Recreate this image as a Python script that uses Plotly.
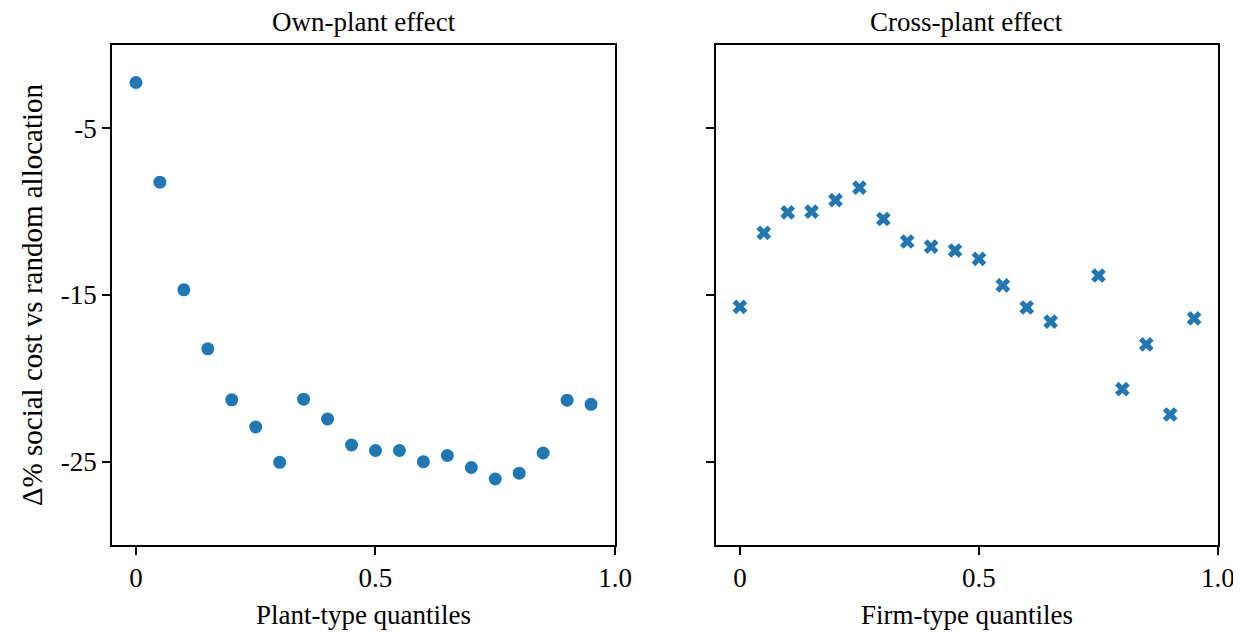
import plotly.graph_objects as go
from plotly.subplots import make_subplots

quantiles = [0.0, 0.05, 0.10, 0.15, 0.20, 0.25, 0.30, 0.35, 0.40, 0.45,
             0.50, 0.55, 0.60, 0.65, 0.70, 0.75, 0.80, 0.85, 0.90, 0.95]
own_plant = [-2.25, -8.23, -14.69, -18.23, -21.29, -22.92, -25.04, -21.25, -22.44, -24.0,
             -24.33, -24.33, -25.0, -24.63, -25.35, -26.04, -25.69, -24.48, -21.31, -21.56]
cross_plant = [-15.71, -11.27, -10.04, -10.0, -9.31, -8.56, -10.44, -11.79, -12.10, -12.33,
               -12.83, -14.42, -15.75, -16.6, None, -13.83, -20.65, -17.96, -22.17, -16.4]

x_tickvals = [0, 0.5, 1.0]
x_ticktext = ["0", "0.5", "1.0"]
y_tickvals = [-5, -15, -25]
y_ticktext = ["-5", "-15", "-25"]

color = "#1f77b4"
FONT = "Liberation Serif"
FS = 27

fig = make_subplots(rows=1, cols=2, shared_yaxes=False, horizontal_spacing=0.0913)

fig.add_trace(go.Scatter(x=quantiles, y=own_plant, mode="markers",
                         marker=dict(symbol="circle", size=13, color=color),
                         showlegend=False), row=1, col=1)
fig.add_trace(go.Scatter(x=quantiles, y=cross_plant, mode="markers",
                         marker=dict(symbol="x", size=13, color=color, line=dict(width=0)),
                         showlegend=False), row=1, col=2)

axis_common = dict(showline=True, linecolor="black", linewidth=1.5, mirror=True,
                   ticks="outside", ticklen=8, tickwidth=1.5, tickcolor="black",
                   showgrid=False, zeroline=False, automargin=False,
                   tickfont=dict(family=FONT, size=FS, color="black"))

fig.update_xaxes(range=[-0.05, 1.0], tickvals=x_tickvals, ticktext=x_ticktext, **axis_common)
fig.update_yaxes(range=[-30, 0], tickvals=y_tickvals, ticktext=y_ticktext, **axis_common)

fig.update_xaxes(domain=[0, 0.4548], row=1, col=1,
                 title=dict(text="Plant-type quantiles", font=dict(family=FONT, size=FS, color="black"), standoff=13))
fig.update_xaxes(domain=[0.5461, 1.0], row=1, col=2,
                 title=dict(text="Firm-type quantiles", font=dict(family=FONT, size=FS, color="black"), standoff=13))
fig.update_yaxes(row=1, col=1,
                 title=dict(text="Δ% social cost vs random allocation", font=dict(family=FONT, size=29, color="black"), standoff=10))
fig.update_yaxes(row=1, col=2, showticklabels=False)

fig.update_layout(
    width=1233, height=624,
    margin=dict(l=104, r=23, t=37, b=87),
    paper_bgcolor="white", plot_bgcolor="white",
    annotations=[
        dict(text="Own-plant effect", x=0.2274, xref="paper", xanchor="center", y=1.0, yref="paper",
             yanchor="bottom", yshift=6, showarrow=False, font=dict(family=FONT, size=FS, color="black")),
        dict(text="Cross-plant effect", x=0.773, xref="paper", xanchor="center", y=1.0, yref="paper",
             yanchor="bottom", yshift=6, showarrow=False, font=dict(family=FONT, size=FS, color="black")),
    ],
)

fig.write_html("out.html")
